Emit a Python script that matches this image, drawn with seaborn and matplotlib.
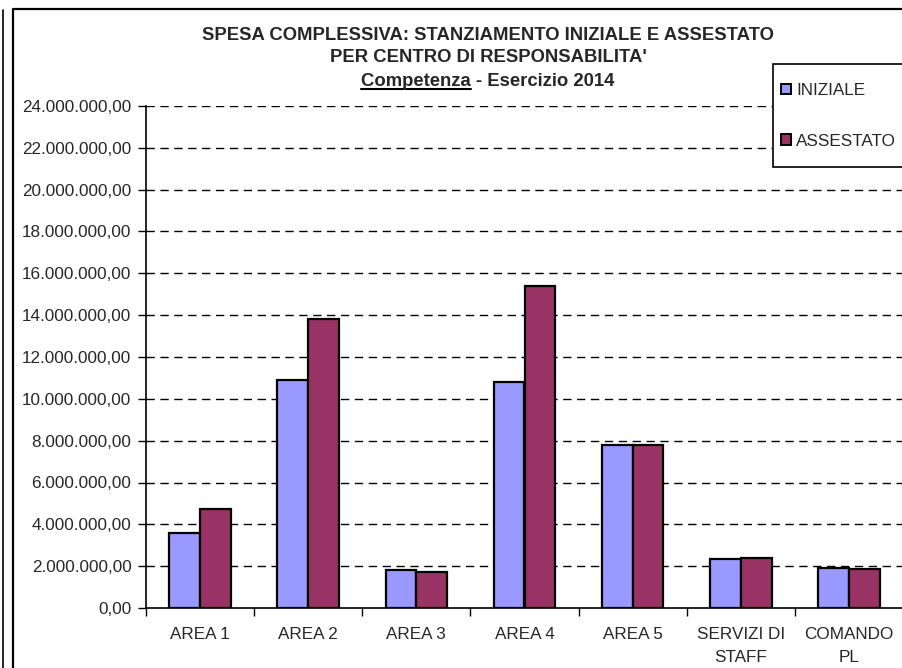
import numpy as np
import pandas as pd
import matplotlib
matplotlib.use('Agg')
import matplotlib.pyplot as plt
import seaborn as sns
from matplotlib.lines import Line2D
from matplotlib.patches import Rectangle

# values (euro)
categories = ['AREA 1', 'AREA 2', 'AREA 3', 'AREA 4', 'AREA 5', 'SERVIZI DI\nSTAFF', 'COMANDO\nPL']
iniziale = [3570000, 10900000, 1800000, 10790000, 7790000, 2330000, 1910000]
assestato = [4720000, 13800000, 1710000, 15390000, 7780000, 2390000, 1860000]
series_names = ['INIZIALE', 'ASSESTATO']
series_colors = ['#9999FF', '#993366']
y_ticks = np.arange(0, 24000001, 2000000)

df = pd.DataFrame({
    'cat': categories * 2,
    'serie': [series_names[0]] * len(categories) + [series_names[1]] * len(categories),
    'valore': iniziale + assestato,
})

sns.set_theme(style='white')
plt.rcParams['font.family'] = ['Liberation Sans', 'DejaVu Sans']


def fmt_it(v):
    s = f"{v:,.2f}"
    return s.replace(',', 'X').replace('.', ',').replace('X', '.')


W, H = 903, 668
fig = plt.figure(figsize=(W / 100, H / 100), dpi=100)
ax = fig.add_axes([146 / W, 1 - 608 / H, (903 - 146) / W, (608 - 106) / H])

sns.barplot(data=df, x='cat', y='valore', hue='serie', order=categories,
            hue_order=series_names, palette=series_colors, width=0.57, gap=0,
            edgecolor='black', linewidth=1.6, saturation=1, ax=ax, legend=False,
            zorder=3)

ax.set_xlim(-0.5, len(categories) - 0.5)
ax.set_ylim(0, 24000000)
ax.set_yticks(y_ticks)
ax.set_yticklabels([fmt_it(v) for v in y_ticks], fontsize=12.3)
ax.set_xticks(range(len(categories)))
ax.set_xticklabels(categories, fontsize=12.3, linespacing=1.6)
ax.set_xticks(np.arange(-0.5, len(categories) - 0.4, 1), minor=True)
ax.tick_params(axis='x', which='major', length=0, pad=14)
ax.tick_params(axis='x', which='minor', length=6, width=1, color='black', direction='out', bottom=True)
ax.tick_params(axis='y', length=6, width=1, color='black', direction='out', left=True, pad=4.5)
ax.set_xlabel('')
ax.set_ylabel('')

ax.grid(False)
for v in y_ticks[1:]:
    ax.axhline(v, color='black', linestyle=(0, (6, 4)), linewidth=1, zorder=1)

for side in ['top', 'right']:
    ax.spines[side].set_visible(False)
for side in ['left', 'bottom']:
    ax.spines[side].set_color('black')
    ax.spines[side].set_linewidth(1.2)

# title
cx = 488 / W
fig.text(cx, 1 - 35 / H, "SPESA COMPLESSIVA: STANZIAMENTO INIZIALE E ASSESTATO",
         ha='center', va='center', fontsize=13.3, fontweight='bold')
fig.text(cx, 1 - 58 / H, "PER CENTRO DI RESPONSABILITA'",
         ha='center', va='center', fontsize=13.3, fontweight='bold')
t3 = fig.text(cx, 1 - 81 / H, "Competenza - Esercizio 2014",
              ha='center', va='center', fontsize=13.3, fontweight='bold')

# legend box drawn by hand, legend entries inside without frame
fig.add_artist(Rectangle((773 / W, 1 - 167 / H), 140 / W, 103 / H, transform=fig.transFigure,
                         facecolor='white', edgecolor='black', linewidth=1.2, zorder=5))
handles = [Rectangle((0, 0), 1, 1, facecolor=c, edgecolor='black', linewidth=1.4) for c in series_colors]
leg = fig.legend(handles, series_names, loc='upper left', bbox_to_anchor=(781 / W, 1 - 83 / H),
                 fontsize=12.3, frameon=False, handlelength=0.6, handleheight=0.6,
                 handletextpad=0.3, labelspacing=2.1, borderpad=0, borderaxespad=0)
leg.set_zorder(6)

# chart frame
fig.add_artist(Line2D([13 / W, 13 / W, 1.01], [0, 1 - 9 / H, 1 - 9 / H], color='black',
                      linewidth=1.6, transform=fig.transFigure))
fig.add_artist(Line2D([3 / W, 3 / W], [0, 1 - 10 / H], color='black',
                      linewidth=1.2, transform=fig.transFigure))

# underline "Competenza"
fig.canvas.draw()
r = fig.canvas.get_renderer()
bb = t3.get_window_extent(r)
tmp = fig.text(0, 0, "Competenza", fontsize=13.3, fontweight='bold')
wbb = tmp.get_window_extent(r)
tmp.remove()
uy = bb.y0 + 1
fig.add_artist(Line2D([bb.x0 / W, (bb.x0 + wbb.width) / W], [uy / H, uy / H],
                      color='black', linewidth=1.5, transform=fig.transFigure))

fig.savefig('out.png', dpi=100)
